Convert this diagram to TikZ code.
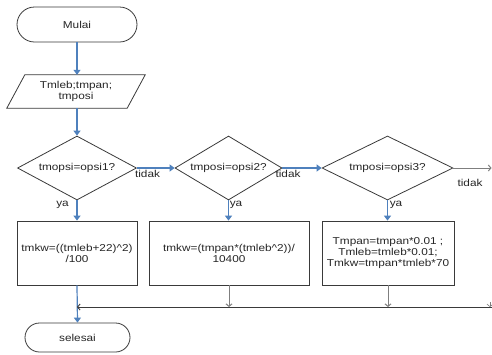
\documentclass[tikz,border=0pt]{standalone}
\usepackage{fontspec}
\setmainfont{Liberation Sans}[FakeStretch=1.18]
\usetikzlibrary{shapes.geometric,shapes.misc,arrows.meta}
\definecolor{lc}{HTML}{3A3A3A}
\definecolor{bl}{HTML}{4F81BD}
\definecolor{gl}{HTML}{7F7F7F}
\definecolor{tc}{HTML}{262626}
\begin{document}
\begin{tikzpicture}[x=1pt,y=-1pt,
 font=\fontsize{10}{11}\selectfont,
 every node/.style={inner sep=0pt, text=tc},
 term/.style={draw=lc, line width=0.8pt, rounded rectangle, inner sep=0pt},
 proc/.style={draw=lc, line width=0.8pt, rectangle, align=center, minimum height=64pt},
 dia/.style={draw=lc, line width=0.8pt, diamond, minimum height=64pt, inner sep=0pt},
 flow/.style={draw=bl, line width=1.2pt, -{Triangle[length=5pt,width=7pt]}},
 gflow/.style={draw=gl, line width=1pt, -{Straight Barb[length=2.5pt,width=6pt]}},
 mline/.style={draw=lc, line width=0.9pt, -{Straight Barb[length=2.5pt,width=6pt]}}]
\useasboundingbox[fill=white] (0,0) rectangle (492,354);

% nodes
\node[term, minimum width=120pt, minimum height=35pt] (start) at (77,24.5) {Mulai};
\node[minimum width=120pt, minimum height=33pt, align=center] (in) at (76,91.5) {Tmleb;tmpan;\\tmposi};
\draw[draw=lc, line width=0.8pt] ([xshift=9pt]in.north west) -- ([xshift=9pt]in.north east)
  -- ([xshift=-9pt]in.south east) -- ([xshift=-9pt]in.south west) -- cycle;

\node[dia, minimum width=119pt, aspect=1.86] (d1) at (77,168) {tmopsi=opsi1?};
\node[dia, minimum width=107pt, aspect=1.67] (d2) at (228.5,168) {tmposi=opsi2?};
\node[dia, minimum width=131pt, aspect=2.05] (d3) at (387.5,168) {tmposi=opsi3?};

\node[proc, minimum width=120pt] (b1) at (77,253) {tmkw=((tmleb+22)\^{}2)\\/100};
\node[proc, minimum width=160pt] (b2) at (229,253) {tmkw=(tmpan*(tmleb\^{}2))/\\10400};
\node[proc, minimum width=132pt] (b3) at (388,253) {Tmpan=tmpan*0.01 ;\\Tmleb=tmleb*0.01;\\Tmkw=tmpan*tmleb*70};

\node[term, minimum width=105pt, minimum height=29pt] (end) at (77.5,337.5) {selesai};

% labels
\node (ya1) at (62.5,205) {ya};
\node (td1) at (147.5,173.5) {tidak};
\node (ya2) at (236,205) {ya};
\node (td2) at (288,174) {tidak};
\node (ya3) at (396,205) {ya};
\node (td3) at (470,183) {tidak};

% coordinates
\coordinate (rt) at (491.5,168);
\coordinate (mR) at (492,307);
\coordinate (mL) at (77,307);
\coordinate (rd) at (490,302);

% connectors
\draw[flow] (start.south) -- (start.south |- in.north);
\draw[flow] (d1.north |- in.south) -- (d1.north);
\draw[flow] (d1.south) -- (b1.north);
\draw[flow] (d1.east) -- (d2.west);
\draw[flow] (d2.south) -- (d2.south |- b2.north);
\draw[flow] (d2.east) -- (d3.west);
\draw[flow] (d3.south) -- (d3.south |- b3.north);
\draw[gflow] (d3.east) -- (rt);

\draw[flow] (b1.south) -- (end.north);
\draw[mline] (mR) -- (mL);
\draw[gflow] (b2.south) -- (b2.south |- mR);
\draw[gflow] (b3.south) -- (b3.south |- mR);
\draw[gflow, line width=0.6pt] (rd) -- (rd |- mR);
\end{tikzpicture}
\end{document}
